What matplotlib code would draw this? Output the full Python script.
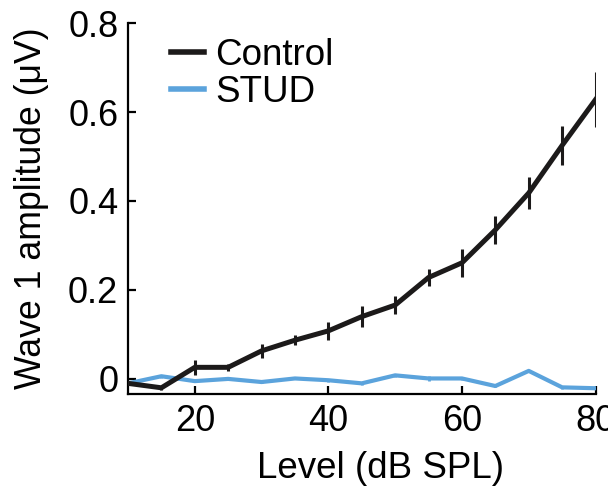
import numpy as np
import matplotlib
matplotlib.use("Agg")
from matplotlib import pyplot as plt

plt.rcParams["font.family"] = ["Liberation Sans", "DejaVu Sans"]

level = [10, 15, 20, 25, 30, 35, 40, 45, 50, 55, 60, 65, 70, 75, 80]
control = [-0.01, -0.02, 0.026, 0.026, 0.063, 0.087, 0.108, 0.14, 0.166,
           0.228, 0.261, 0.335, 0.418, 0.525, 0.628]
control_err = [0.004, 0.004, 0.017, 0.008, 0.015, 0.011, 0.021, 0.024, 0.02,
               0.02, 0.031, 0.032, 0.036, 0.044, 0.062]
stud = [-0.01, 0.006, -0.005, 0.0, -0.007, 0.001, -0.003, -0.01, 0.008,
        0.001, 0.001, -0.016, 0.018, -0.019, -0.021]
stud_err = [0.002, 0.003, 0.003, 0.003, 0.003, 0.002, 0.003, 0.003, 0.003,
            0.005, 0.003, 0.003, 0.003, 0.003, 0.002]

black = "#1c1a1a"
blue = "#5ba3dc"

fig = plt.figure(figsize=(6.08, 4.91), dpi=100)
ax = fig.add_axes([0.2105, 0.1975, 0.769, 0.7555])

# error bars first, then the lines (legend shows plain lines)
ax.errorbar(level, stud, yerr=stud_err, fmt="none", ecolor=blue,
            elinewidth=2.0, capsize=0, zorder=2)
ax.plot(level, stud, color=blue, lw=3.0, label="STUD", zorder=2)
ax.errorbar(level, control, yerr=control_err, fmt="none", ecolor=black,
            elinewidth=2.2, capsize=0, zorder=3)
ax.plot(level, control, color=black, lw=3.6, label="Control", zorder=3)

ax.set_xlim(10, 80)
ax.set_ylim(-0.034, 0.8)
ax.set_xticks([20, 40, 60, 80])
ax.set_yticks([0, 0.2, 0.4, 0.6, 0.8])
ax.set_yticklabels(["0", "0.2", "0.4", "0.6", "0.8"])
ax.tick_params(direction="in", length=6, width=1.6, labelsize=26, pad=7)

for side in ["top", "right"]:
    ax.spines[side].set_visible(False)
for side in ["left", "bottom"]:
    ax.spines[side].set_linewidth(1.6)

ax.set_xlabel("Level (dB SPL)", fontsize=26.5)
ax.xaxis.set_label_coords(0.541, -0.153)
ax.set_ylabel("Wave 1 amplitude (μV)", fontsize=25.7, labelpad=14)

handles, labels = ax.get_legend_handles_labels()
leg = ax.legend(handles[::-1], labels[::-1], loc="upper left", frameon=False,
                fontsize=26.5, handlelength=0.9, handletextpad=0.3,
                labelspacing=0.05, borderaxespad=0,
                bbox_to_anchor=(0.06, 1.0))
for h in leg.legend_handles:
    h.set_linewidth(4)

fig.savefig("out.png", dpi=100)
